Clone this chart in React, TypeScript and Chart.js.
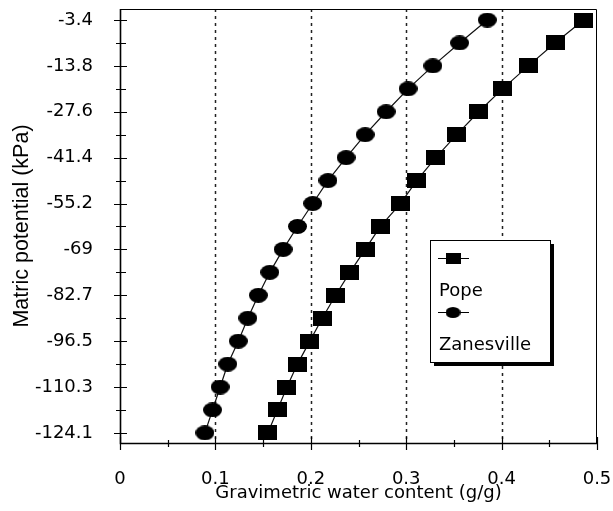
import React, { useEffect, useRef } from "react";
import { Chart, registerables } from "chart.js";

Chart.register(...registerables);

// Tick labels of the matric potential axis (kPa), bottom to top, evenly spaced on the chart
const potentialLabels = ["-124.1", "-110.3", "-96.5", "-82.7", "-69", "-55.2", "-41.4", "-27.6", "-13.8", "-3.4"];
// Position of each measured point on the potential axis (in tick-step units, 0 = -124.1, 9 = -3.4)
const potentialSteps = [0, 0.5, 1, 1.5, 2, 2.5, 3, 3.5, 4, 4.5, 5, 5.5, 6, 6.5, 7, 7.5, 8, 8.5, 9];
const potentialMinorSteps = [0.5, 1.5, 2.5, 3.5, 4.5, 5.5, 6.5, 7.5, 8.5];

// Gravimetric water content (g/g)
const popeWater = [0.155, 0.165, 0.175, 0.186, 0.199, 0.212, 0.226, 0.241, 0.257, 0.273, 0.294, 0.311, 0.331, 0.353, 0.376, 0.401, 0.428, 0.456, 0.486];
const zanesvilleWater = [0.089, 0.097, 0.105, 0.113, 0.124, 0.134, 0.145, 0.157, 0.171, 0.186, 0.202, 0.218, 0.237, 0.257, 0.279, 0.302, 0.328, 0.356, 0.385];

const waterMajorTicks = [0, 0.1, 0.2, 0.3, 0.4, 0.5];
const waterMinorTicks = [0.05, 0.15, 0.25, 0.35, 0.45];

const seriesNames = ["Pope", "Zanesville"];

const LABEL_FONT = "'DejaVu Sans', sans-serif";

function makeMarker(shape: "rect" | "ellipse", w: number, h: number): HTMLCanvasElement {
  const c = document.createElement("canvas");
  c.width = w;
  c.height = h;
  const g = c.getContext("2d")!;
  g.fillStyle = "#000";
  if (shape === "rect") {
    g.fillRect(0, 0, w, h);
  } else {
    g.beginPath();
    g.ellipse(w / 2, h / 2, w / 2, h / 2, 0, 0, Math.PI * 2);
    g.fill();
  }
  return c;
}

function clearPadding(s: any) {
  s.paddingLeft = 0;
  s.paddingRight = 0;
  s.paddingTop = 0;
  s.paddingBottom = 0;
}

export default function App() {
  const ref = useRef<HTMLCanvasElement | null>(null);

  useEffect(() => {
    if (!ref.current) return;
    const square = makeMarker("rect", 19, 15);
    const ellipse = makeMarker("ellipse", 19, 15);
    const squareSmall = makeMarker("rect", 15, 11);
    const ellipseSmall = makeMarker("ellipse", 15, 11);

    const axesPlugin = {
      id: "axesFrame",
      beforeDatasetsDraw(chart: any) {
        const { ctx, chartArea: a, scales } = chart;
        const xs = scales.x;
        const ys = scales.y;
        ctx.save();
        // dotted vertical grid lines
        ctx.strokeStyle = "#222";
        ctx.lineWidth = 1.5;
        ctx.setLineDash([3, 4]);
        waterMajorTicks.forEach((v) => {
          if (v <= xs.min || v >= xs.max) return;
          const px = Math.round(xs.getPixelForValue(v)) + 0.5;
          ctx.beginPath();
          ctx.moveTo(px, a.top);
          ctx.lineTo(px, a.bottom);
          ctx.stroke();
        });
        ctx.setLineDash([]);
        // frame
        ctx.strokeStyle = "#000";
        ctx.lineWidth = 1;
        ctx.beginPath();
        ctx.moveTo(a.left, a.top + 0.5);
        ctx.lineTo(a.right - 0.5, a.top + 0.5);
        ctx.lineTo(a.right - 0.5, a.bottom);
        ctx.stroke();
        ctx.lineWidth = 1.6;
        ctx.beginPath();
        ctx.moveTo(a.left + 0.5, a.top);
        ctx.lineTo(a.left + 0.5, a.bottom + 0.5);
        ctx.lineTo(a.right, a.bottom + 0.5);
        ctx.stroke();
        // y ticks (crossing the axis)
        ctx.lineWidth = 1.2;
        ctx.beginPath();
        potentialLabels.forEach((_, i) => {
          const py = Math.round(ys.getPixelForValue(i)) + 0.5;
          ctx.moveTo(a.left - 6, py);
          ctx.lineTo(a.left + 7, py);
        });
        potentialMinorSteps.forEach((v) => {
          const py = Math.round(ys.getPixelForValue(v)) + 0.5;
          ctx.moveTo(a.left - 4, py);
          ctx.lineTo(a.left + 6, py);
        });
        // x ticks
        waterMajorTicks.forEach((v) => {
          const px = Math.round(xs.getPixelForValue(v)) + 0.5;
          ctx.moveTo(px, a.bottom - 6);
          ctx.lineTo(px, a.bottom + 7);
        });
        waterMinorTicks.forEach((v) => {
          const px = Math.round(xs.getPixelForValue(v)) + 0.5;
          ctx.moveTo(px, a.bottom - 3);
          ctx.lineTo(px, a.bottom + 4);
        });
        ctx.stroke();
        ctx.restore();
      },
      afterDraw(chart: any) {
        const { ctx, chartArea: a } = chart;
        const L = a.right - 167;
        const T = a.top + 231;
        const W = 120;
        const H = 122;
        ctx.save();
        // shadow
        ctx.fillStyle = "#000";
        ctx.fillRect(L + 4, T + 4, W, H);
        ctx.fillStyle = "#fff";
        ctx.fillRect(L, T, W, H);
        ctx.strokeStyle = "#000";
        ctx.lineWidth = 1;
        ctx.strokeRect(L + 0.5, T + 0.5, W, H);
        const markers = [squareSmall, ellipseSmall];
        const rows = [18, 72];
        const textRows = [56, 110];
        ctx.font = `18px ${LABEL_FONT}`;
        ctx.textBaseline = "alphabetic";
        ctx.textAlign = "left";
        seriesNames.forEach((name, i) => {
          const ly = T + rows[i] + 0.5;
          ctx.strokeStyle = "#000";
          ctx.lineWidth = 1;
          ctx.beginPath();
          ctx.moveTo(L + 8, ly);
          ctx.lineTo(L + 39, ly);
          ctx.stroke();
          const m = markers[i];
          ctx.drawImage(m, L + 23 - m.width / 2, ly - m.height / 2);
          ctx.fillStyle = "#000";
          ctx.fillText(name, L + 9, T + textRows[i]);
        });
        ctx.restore();
      },
    };

    const chart = new Chart(ref.current, {
      type: "line",
      data: {
        datasets: [
          {
            label: seriesNames[0],
            data: popeWater.map((w, i) => ({ x: w, y: potentialSteps[i] })),
            borderColor: "#111",
            borderWidth: 1.2,
            pointStyle: square as any,
            pointRadius: 9,
            showLine: true,
            tension: 0,
          },
          {
            label: seriesNames[1],
            data: zanesvilleWater.map((w, i) => ({ x: w, y: potentialSteps[i] })),
            borderColor: "#111",
            borderWidth: 1.2,
            pointStyle: ellipse as any,
            pointRadius: 9,
            showLine: true,
            tension: 0,
          },
        ],
      },
      options: {
        animation: false,
        responsive: false,
        layout: { autoPadding: false, padding: { left: 0, right: 16, top: 9, bottom: 0 } },
        plugins: {
          legend: { display: false },
          tooltip: { enabled: false },
        },
        scales: {
          x: {
            type: "linear",
            min: 0,
            max: 0.5,
            afterBuildTicks: (s: any) => {
              s.ticks = waterMajorTicks.map((v) => ({ value: v }));
            },
            afterFit: (s: any) => {
              s.height = 68;
              clearPadding(s);
            },
            grid: { display: false, drawTicks: false },
            border: { display: false },
            ticks: {
              padding: 26,
              color: "#000",
              font: { family: LABEL_FONT, size: 18 },
              maxRotation: 0,
              callback: (v: any) => String(Number(Number(v).toFixed(2))),
            },
            title: {
              display: true,
              text: "Gravimetric water content (g/g)",
              color: "#000",
              font: { family: LABEL_FONT, size: 18 },
              padding: { top: 0, bottom: 7 },
            },
          },
          y: {
            type: "linear",
            min: -0.22,
            max: 9.24,
            afterBuildTicks: (s: any) => {
              s.ticks = potentialLabels.map((_, i) => ({ value: i }));
            },
            afterFit: (s: any) => {
              s.width = 120;
              clearPadding(s);
            },
            grid: { display: false, drawTicks: false },
            border: { display: false },
            ticks: {
              padding: 27,
              color: "#000",
              font: { family: LABEL_FONT, size: 18 },
              callback: (_v: any, i: number) => potentialLabels[i],
            },
            title: {
              display: true,
              text: "Matric potential (kPa)",
              color: "#000",
              font: { family: "'Liberation Sans', Arial, sans-serif", size: 21.5 },
              padding: { top: 9, bottom: 0 },
            },
          },
        },
      },
      plugins: [axesPlugin],
    } as any);

    return () => chart.destroy();
  }, []);

  return (
    <div style={{ position: "fixed", left: 0, top: 0, width: 613, height: 511, background: "#fff" }}>
      <canvas ref={ref} width={613} height={511} style={{ display: "block" }} />
    </div>
  );
}
